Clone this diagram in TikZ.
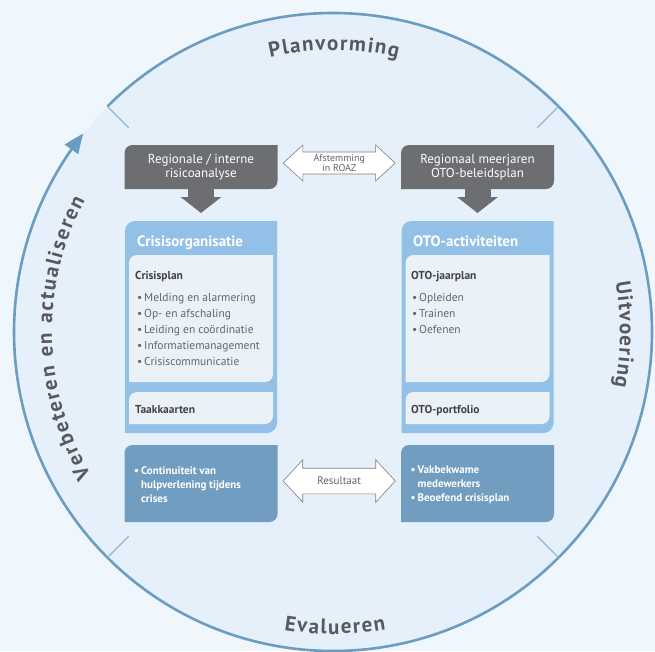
\documentclass[tikz,border=0pt]{standalone}
\usepackage{fontspec}
\setmainfont{PT Sans}
\usetikzlibrary{arrows.meta, bending, shapes.arrows, decorations.text, backgrounds, calc, positioning}

\definecolor{pagebg}{RGB}{239,246,252}
\definecolor{ringfill}{RGB}{229,240,250}
\definecolor{ringline}{RGB}{107,157,193}
\definecolor{tickline}{RGB}{143,182,211}
\definecolor{labelgrey}{RGB}{88,89,92}
\definecolor{boxgrey}{RGB}{109,110,113}
\definecolor{boxblue}{RGB}{146,192,230}
\definecolor{panelblue}{RGB}{235,242,247}
\definecolor{resultblue}{RGB}{113,158,192}
\definecolor{textgrey}{RGB}{100,101,104}
\definecolor{headgrey}{RGB}{66,66,70}
\definecolor{arrowgrey}{RGB}{125,125,128}

% box with rounded top-left and bottom-right corners
\newcommand{\leaf}[3]{%
  \fill[#2] (#1.south west) -- ([yshift=-#3]#1.north west)
    arc[start angle=180, end angle=90, radius=#3] -- (#1.north east)
    -- ([yshift=#3]#1.south east)
    arc[start angle=0, end angle=-90, radius=#3] -- cycle;}
\newcommand{\bul}{\makebox[7pt][l]{\textbullet}}
\newcommand{\ringfont}{\fontsize{21}{21}\selectfont\bfseries}

\begin{document}
\begin{tikzpicture}[x=1pt, y=1pt,
    area/.style={inner sep=0pt, outer sep=0pt},
    greybox/.style={area, minimum width=153pt, minimum height=44pt, text=white, align=center, font=\fontsize{13}{14}\selectfont},
    bigbox/.style={area, minimum width=152pt, minimum height=212pt},
    panel/.style={area, minimum width=144pt},
    resultbox/.style={area, minimum width=153pt, minimum height=77pt},
    boxtitle/.style={anchor=base west, inner sep=0pt, text=white, font=\fontsize{15}{16}\selectfont\bfseries},
    head/.style={anchor=base west, inner sep=0pt, text=headgrey, font=\fontsize{11.5}{12}\selectfont\bfseries},
    item/.style={anchor=base west, inner sep=0pt, text=textgrey, font=\fontsize{11.5}{12}\selectfont},
    result/.style={anchor=west, inner sep=0pt, align=left, text=white, font=\fontsize{11}{14}\selectfont\bfseries},
    dblarrow/.style={double arrow, draw=arrowgrey, fill=white, line width=0.6pt, inner xsep=2pt, align=center, text=textgrey, minimum height=112pt},
    stub/.style={draw=boxgrey, line width=26pt, -{Triangle[length=16pt, width=40pt]}, shorten >=8pt},
    ring/.style={draw=ringline, line width=2.6pt, -{Triangle[length=20pt, width=16pt, bend]}},
    ringtick/.style={draw=tickline, line width=1.2pt},
    ringlabel/.style={decorate, decoration={text along path, text={|\ringfont|#1}, text align={fit to path}, text color=labelgrey}}
]
\useasboundingbox (0,0) rectangle (655,-651);
\coordinate (C) at (333,-332);

\begin{scope}[on background layer]
\fill[pagebg] (0,0) rectangle (655,-651);
\fill[ringfill] ($(C)+(135:319pt)$) arc[start angle=135, end angle=-218.5, radius=319pt] -- cycle;
\draw[ring] ($(C)+(135:319pt)$) arc[start angle=135, end angle=-218.5, radius=319pt];
\foreach \a in {45,135,225,315}
  \draw[ringtick] ($(C)+(\a:319pt)$) -- ($(C)+(\a:289pt)$);
\end{scope}

% phase labels
\path[ringlabel={Planvorming}] ($(C)+(102.9:282pt)$) arc[start angle=102.9, end angle=76.7, radius=282pt];
\path[ringlabel={Uitvoering}] ($(C)+(10:287pt)$) arc[start angle=10, end angle=-11, radius=287pt];
\path[ringlabel={Evalueren}] ($(C)+(260.7:302pt)$) arc[start angle=260.7, end angle=280.1, radius=302pt];
\path[ringlabel={Verbeteren en actualiseren}] ($(C)+(210.6:281pt)$) arc[start angle=210.6, end angle=152, radius=281pt];

% top row
\node[greybox] (risk) at (201,-167) {Regionale / interne\\risicoanalyse};
\node[greybox] (plan) at (477.5,-167) {Regionaal meerjaren\\OTO-beleidsplan};
\node[dblarrow, font=\fontsize{10}{9}\selectfont, inner ysep=2pt,
      double arrow head extend=7pt, double arrow tip angle=85]
  (afstem) at ([yshift=4pt]$(risk.east)!0.5!(plan.west)$) {Afstemming\\in ROAZ};

% middle row
\node[bigbox] (crisis) at (201,-327) {};
\node[bigbox] (oto) at (477.5,-327) {};
\node[panel, minimum height=127pt] (crisisplan) at (201,-318.5) {};
\node[panel, minimum height=32pt] (taken) at (201,-408) {};
\node[panel, minimum height=127pt] (jaarplan) at (477.5,-318.5) {};
\node[panel, minimum height=32pt] (portfolio) at (477.5,-408) {};

\node[boxtitle] (crisistitle) at (137,-246) {Crisisorganisatie};
\node[boxtitle] (ototitle) at (413,-246) {OTO-activiteiten};
\node[head] (crisisplanhead) at (135,-279) {Crisisplan};
\node[head] (jaarplanhead) at (411,-279) {OTO-jaarplan};
\foreach \t [count=\i] in {Melding en alarmering, Op- en afschaling,
    Leiding en coördinatie, Informatiemanagement, Crisiscommunicatie}
  \node[item] (crisisitem\i) at (137,-285-16*\i) {\bul\t};
\foreach \t [count=\i] in {Opleiden, Trainen, Oefenen}
  \node[item] (otoitem\i) at (412,-285-16*\i) {\bul\t};
\node[head] (takenhead) at (135,-413) {Taakkaarten};
\node[head] (portfoliohead) at (411,-413) {OTO-portfolio};

\draw[stub] (risk.south) -- (crisis.north);
\draw[stub] (plan.south) -- (oto.north);

% bottom row
\node[resultbox] (resultleft) at (201,-483.5) {};
\node[resultbox] (resultright) at (477.5,-483.5) {};
\node[result] (continuity) at ([xshift=9.5pt,yshift=-1.5pt]resultleft.west)
  {\bul Continuiteit van\\\hspace*{7pt}hulpverlening tijdens\\\hspace*{7pt}crises};
\node[result] (skills) at ([xshift=9.5pt,yshift=-1.5pt]resultright.west)
  {\bul Vakbekwame\\\hspace*{7pt}medewerkers\\\bul Beoefend crisisplan};
\node[dblarrow, font=\fontsize{11}{12}\selectfont, text height=7pt, text depth=0pt,
      inner ysep=9pt, double arrow head extend=8.5pt, double arrow tip angle=95]
  (result) at ([yshift=2.5pt]$(resultleft.east)!0.5!(resultright.west)$) {Resultaat};

\begin{scope}[on background layer]
\leaf{risk}{boxgrey}{8pt}
\leaf{plan}{boxgrey}{8pt}
\leaf{crisis}{boxblue}{10pt}
\leaf{oto}{boxblue}{10pt}
\leaf{crisisplan}{panelblue}{8pt}
\leaf{taken}{panelblue}{8pt}
\leaf{jaarplan}{panelblue}{8pt}
\leaf{portfolio}{panelblue}{8pt}
\leaf{resultleft}{resultblue}{8pt}
\leaf{resultright}{resultblue}{8pt}
\end{scope}
\end{tikzpicture}
\end{document}
